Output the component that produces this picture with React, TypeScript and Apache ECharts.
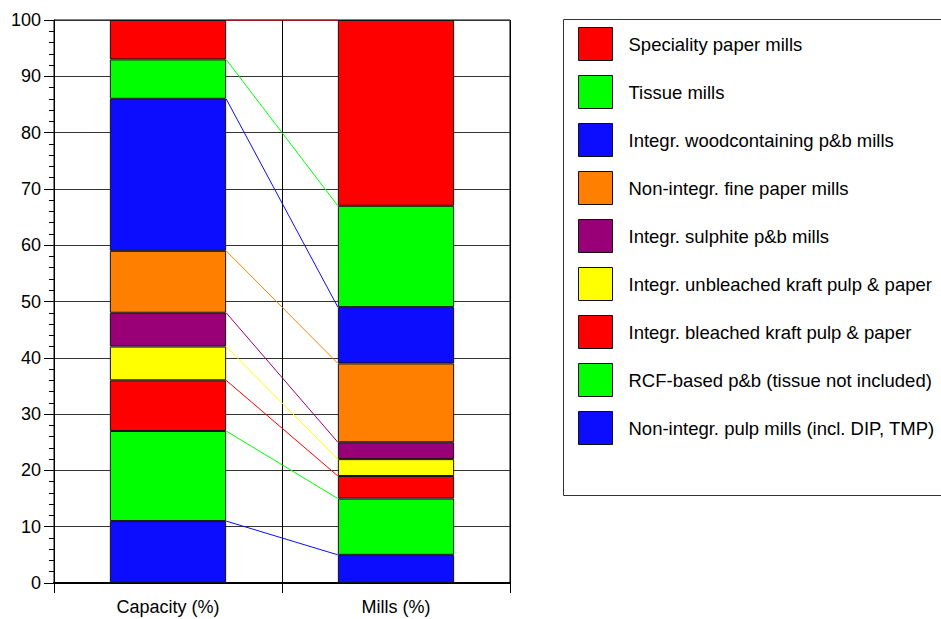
import React, { useEffect, useRef } from "react";
import * as echarts from "echarts";

const categories = ["Capacity (%)", "Mills (%)"];
// bottom to top stacking order
const seriesNames = [
  "Non-integr. pulp mills (incl. DIP, TMP)",
  "RCF-based p&b (tissue not included)",
  "Integr. bleached kraft pulp & paper",
  "Integr. unbleached kraft pulp & paper",
  "Integr. sulphite p&b mills",
  "Non-integr. fine paper mills",
  "Integr. woodcontaining p&b mills",
  "Tissue mills",
  "Speciality paper mills",
];
const capacityValues = [11, 16, 9, 6, 6, 11, 27, 7, 7];
const millsValues = [5, 10, 4, 3, 3, 14, 10, 18, 33];
const colors = [
  "#0c0cff",
  "#00ff00",
  "#ff0000",
  "#ffff00",
  "#990077",
  "#ff8000",
  "#0c0cff",
  "#00ff00",
  "#ff0000",
];
const yTicks = [0, 10, 20, 30, 40, 50, 60, 70, 80, 90, 100];

const FONT = "Liberation Sans";

export default function App() {
  const ref = useRef<HTMLDivElement>(null);
  useEffect(() => {
    if (!ref.current) return;
    const chart = echarts.init(ref.current, null, { renderer: "svg" });
    const barSeries = seriesNames.map((name, i) => ({
      type: "bar",
      name,
      stack: "total",
      barWidth: "51%",
      xAxisIndex: 0,
      yAxisIndex: 0,
      data: [capacityValues[i], millsValues[i]],
      itemStyle: { color: colors[i], borderColor: "#111", borderWidth: 1 },
      z: 3,
    }));
    let cumCap = 0;
    let cumMills = 0;
    const lineSeries = seriesNames.map((_, i) => {
      cumCap += capacityValues[i];
      cumMills += millsValues[i];
      return {
        type: "line",
        name: "link" + i,
        xAxisIndex: 1,
        yAxisIndex: 0,
        symbol: "none",
        silent: true,
        lineStyle: { color: colors[i], width: 1 },
        data: [
          [0.755, cumCap],
          [1.245, cumMills],
        ],
        z: 4,
      };
    });
    chart.setOption({
      animation: false,
      textStyle: { fontFamily: FONT },
      grid: {
        left: 54,
        right: 431,
        top: 20,
        bottom: 36,
        show: true,
        borderColor: "#000",
        borderWidth: 1,
      },
      legend: {
        data: [...seriesNames].reverse(),
        orient: "vertical",
        left: 578,
        top: 27,
        padding: 0,
        itemWidth: 34,
        itemHeight: 33,
        itemGap: 14,
        selectedMode: false,
        icon: "rect",
        itemStyle: { borderColor: "#111", borderWidth: 1 },
        textStyle: {
          fontSize: 18.5,
          color: "#000",
          fontFamily: FONT,
          padding: [0, 0, 0, 11],
        },
      },
      graphic: [
        {
          type: "rect",
          shape: { x: 563.5, y: 19.5, width: 400, height: 476 },
          style: { fill: "none", stroke: "#333", lineWidth: 1 },
          z: -1,
        },
      ],
      xAxis: [
        {
          type: "category",
          data: categories,
          boundaryGap: true,
          axisLine: { show: true, lineStyle: { color: "#000", width: 2 } },
          axisTick: {
            show: true,
            interval: 0,
            length: 10,
            lineStyle: { color: "#000" },
          },
          splitLine: {
            show: true,
            interval: 0,
            lineStyle: { color: "#000", width: 1 },
          },
          axisLabel: {
            fontSize: 18,
            color: "#000",
            margin: 15,
            fontFamily: FONT,
          },
        },
        {
          type: "value",
          min: 0,
          max: 2,
          show: false,
        },
      ],
      yAxis: {
        type: "value",
        min: yTicks[0],
        max: yTicks[yTicks.length - 1],
        interval: 10,
        axisLine: { show: true, lineStyle: { color: "#000", width: 1 } },
        axisTick: { show: true, length: 10, lineStyle: { color: "#000" } },
        minorTick: {
          show: true,
          splitNumber: 5,
          length: 5,
          lineStyle: { color: "#000" },
        },
        splitLine: { show: true, lineStyle: { color: "#333", width: 1 } },
        axisLabel: {
          fontSize: 18,
          color: "#000",
          margin: 13,
          fontFamily: FONT,
        },
      },
      series: [...barSeries, ...lineSeries],
    });
    return () => chart.dispose();
  }, []);
  return (
    <div
      ref={ref}
      style={{ position: "absolute", left: 0, top: 0, width: 941, height: 619 }}
    />
  );
}
